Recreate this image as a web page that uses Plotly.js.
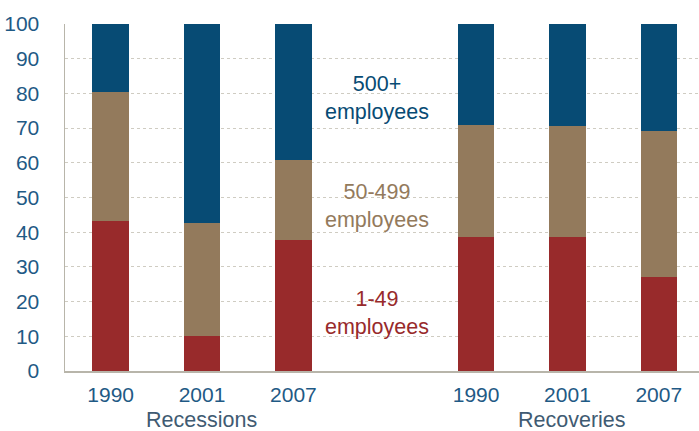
<!DOCTYPE html>
<html>
<head>
<meta charset="utf-8">
<script src="https://cdn.plot.ly/plotly-3.0.1.min.js"></script>
<style>html,body{margin:0;padding:0;background:#fff;}#chart{width:699px;height:431px;}</style>
</head>
<body>
<div id="chart"></div>
<script>
const positions = [0, 1, 2, 4, 5, 6];
const yearLabels = ["1990", "2001", "2007", "1990", "2001", "2007"];
const groupLabels = ["Recessions", "Recoveries"];
const small = [43.3, 10.0, 37.8, 38.6, 38.6, 27.1];     // 1-49 employees
const medium = [37.0, 32.7, 22.9, 32.3, 31.9, 42.1];    // 50-499 employees
const large = [19.7, 57.3, 39.3, 29.1, 29.5, 30.8];     // 500+ employees
const seriesNames = ["1-49<br>employees", "50-499<br>employees", "500+<br>employees"];
const colors = ["#982A2B", "#937A5C", "#074B74"];

const font = "Liberation Sans, Arial, sans-serif";
const vals = [small, medium, large];
const traces = vals.map((v, i) => ({
  type: "bar", x: positions, y: v, name: seriesNames[i],
  marker: {color: colors[i], line: {width: 0}}, width: 0.4, showlegend: false, hoverinfo: "skip"
}));

const labelY = [16.6, 47.5, 78.7];
const annotations = [0, 1, 2].map(i => ({
  text: seriesNames[i], xref: "x", yref: "y", x: 2.91, y: labelY[i],
  showarrow: false, align: "center",
  font: {family: font, size: 21.5, color: colors[i]}
}));
annotations.push({text: groupLabels[0], xref: "x", yref: "paper", x: 0.99, y: 0, yanchor: "middle", yshift: -49, showarrow: false, font: {family: font, size: 21.5, color: "#3F5B72"}});
annotations.push({text: groupLabels[1], xref: "x", yref: "paper", x: 5.05, y: 0, yanchor: "middle", yshift: -49, showarrow: false, font: {family: font, size: 21.5, color: "#3F5B72"}});

const layout = {
  width: 699, height: 431,
  margin: {l: 65, r: 0, t: 24, b: 60},
  barmode: "stack",
  paper_bgcolor: "#fff", plot_bgcolor: "#fff",
  font: {family: font},
  xaxis: {
    range: [-0.5, 6.44], tickvals: positions, ticktext: yearLabels,
    showgrid: false, zeroline: false, showline: true, linecolor: "#B8B5AA", linewidth: 1.5,
    ticks: "", tickfont: {size: 21, color: "#1F5A85"}, ticklabelstandoff: 4
  },
  yaxis: {
    range: [0, 100], tickvals: [0,10,20,30,40,50,60,70,80,90,100],
    showgrid: true, gridcolor: "#CFCCC2", griddash: "3px,3px", gridwidth: 1,
    zeroline: false, showline: true, linecolor: "#B8B5AA", linewidth: 1.5,
    ticks: "", tickfont: {size: 21, color: "#1F5A85"}, ticklabelstandoff: 20
  },
  annotations: annotations
};
Plotly.newPlot("chart", traces, layout, {staticPlot: true, displayModeBar: false});
</script>
</body>
</html>
